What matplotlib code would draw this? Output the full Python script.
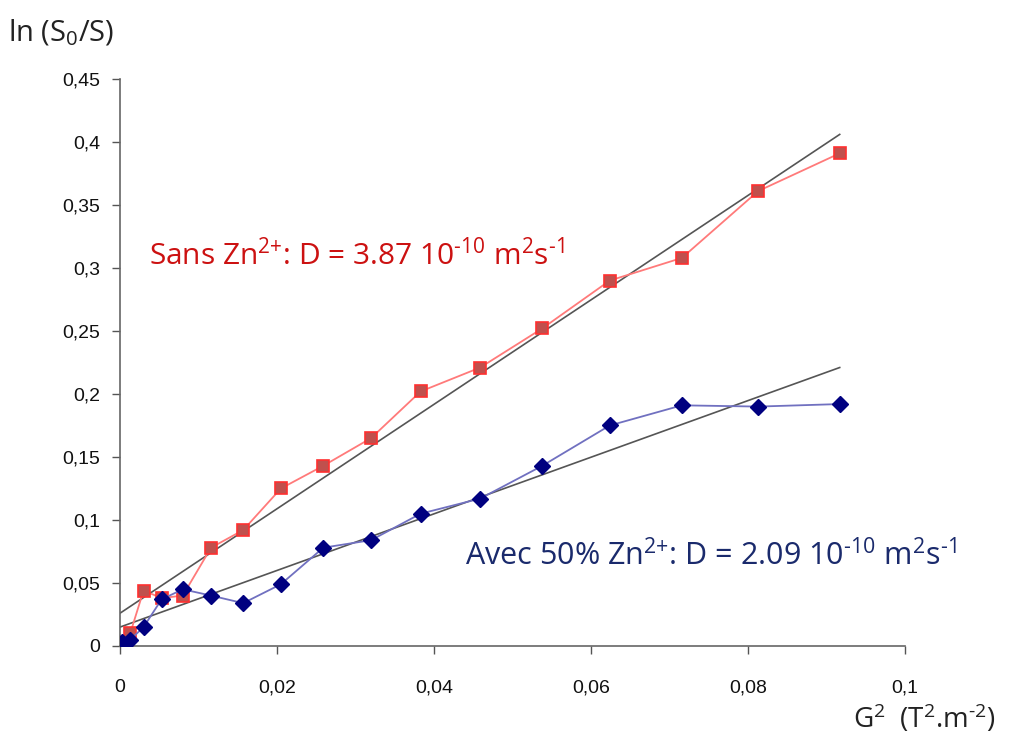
import matplotlib
matplotlib.use('Agg')
import matplotlib.pyplot as plt

# G^2 values (T^2.m^-2) and ln(S0/S)
g2 = [0.0, 0.0003, 0.0013, 0.003, 0.0053, 0.008, 0.0116, 0.0157, 0.0205,
      0.0259, 0.032, 0.0383, 0.0459, 0.0538, 0.0624, 0.0716, 0.0813, 0.0917]
sans_zn = [0.0, 0.001, 0.010, 0.044, 0.038, 0.040, 0.078, 0.092, 0.125,
           0.143, 0.165, 0.202, 0.221, 0.252, 0.290, 0.308, 0.361, 0.391]
avec_zn = [0.0, 0.003, 0.005, 0.015, 0.037, 0.045, 0.040, 0.034, 0.049,
           0.078, 0.084, 0.105, 0.117, 0.143, 0.175, 0.191, 0.190, 0.192]

# linear fits (end points)
fit_x = [0.0, 0.0917]
fit_sans = [0.026, 0.406]
fit_avec = [0.015, 0.221]

yticks = [0, 0.05, 0.1, 0.15, 0.2, 0.25, 0.3, 0.35, 0.4, 0.45]
ytick_labels = ['0', '0,05', '0,1', '0,15', '0,2', '0,25', '0,3', '0,35', '0,4', '0,45']
xticks = [0, 0.02, 0.04, 0.06, 0.08, 0.1]
xtick_labels = ['0', '0,02', '0,04', '0,06', '0,08', '0,1']

plt.rcParams['font.family'] = ['Open Sans', 'DejaVu Sans']
plt.rcParams['mathtext.fontset'] = 'custom'
plt.rcParams['mathtext.rm'] = 'Open Sans'
plt.rcParams['mathtext.it'] = 'Open Sans'
plt.rcParams['mathtext.default'] = 'regular'

fig = plt.figure(figsize=(10.3, 7.36), dpi=100)
ax = fig.add_axes([0.1165, 0.1223, 0.762, 0.7704])

ax.plot(fit_x, fit_sans, color='#555555', lw=1.2, zorder=2)
ax.plot(fit_x, fit_avec, color='#555555', lw=1.2, zorder=2)

ax.plot(g2, sans_zn, color='#ff7a7a', lw=1.3, marker='s', markersize=9,
        markerfacecolor='#c0504d', markeredgecolor='#ff3030', markeredgewidth=1.2, zorder=3)
ax.plot(g2, avec_zn, color='#7070c0', lw=1.3, marker='D', markersize=8,
        markerfacecolor='#000080', markeredgecolor='#000080', zorder=4)

ax.set_xlim(0, 0.1)
ax.set_ylim(0, 0.45)
ax.set_xticks(xticks)
ax.set_xticklabels(xtick_labels, family=['Liberation Sans'], fontsize=14, color='#111111')
ax.set_yticks(yticks)
ax.set_yticklabels(ytick_labels, family=['Liberation Sans'], fontsize=14, color='#111111')
ax.tick_params(direction='out', length=6, width=1, color='#555555')
ax.tick_params(axis='y', pad=8)
ax.tick_params(axis='x', pad=18)
for s in ['top', 'right']:
    ax.spines[s].set_visible(False)
for s in ['left', 'bottom']:
    ax.spines[s].set_color('#666666')
    ax.spines[s].set_linewidth(1.2)

fig.text(0.008, 0.955, r'ln (S$_0$/S)', fontsize=21, color='#222222', va='center')
fig.text(0.828, 0.024, r'G$^2$  (T$^2$.m$^{\text{-2}}$)', fontsize=20, color='#222222', va='center')

ax.text(0.0037, 0.31, r'Sans Zn$^{\text{2+}}$: D = 3.87 10$^{\text{-10}}$ m$^2$s$^{\text{-1}}$',
        color='#cc1111', fontsize=21.5, va='center')
ax.text(0.044, 0.071, r'Avec 50% Zn$^{\text{2+}}$: D = 2.09 10$^{\text{-10}}$ m$^2$s$^{\text{-1}}$',
        color='#1a2a6c', fontsize=22, va='center')

fig.savefig('out.png', dpi=100)
